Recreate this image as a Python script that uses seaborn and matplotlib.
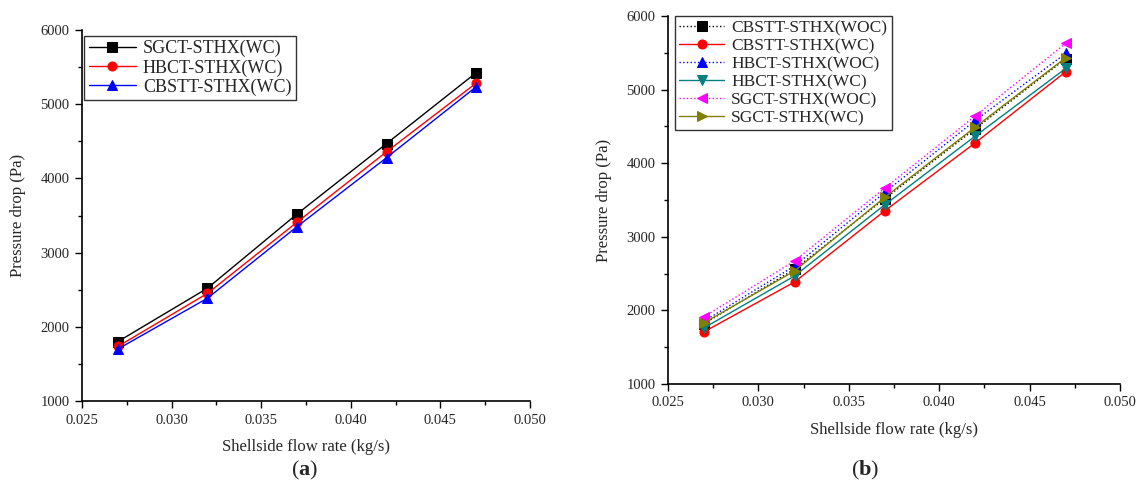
import numpy as np
import pandas as pd
import matplotlib
matplotlib.use('Agg')
import matplotlib.pyplot as plt
import seaborn as sns

flow = [0.027, 0.032, 0.037, 0.042, 0.047]

# panel (a)
sgct_wc_a = [1800, 2520, 3520, 4470, 5425]
hbct_wc_a = [1735, 2450, 3410, 4360, 5285]
cbstt_wc_a = [1700, 2385, 3350, 4280, 5235]

# panel (b)
cbstt_woc = [1820, 2560, 3520, 4470, 5420]
cbstt_wc = [1710, 2386, 3355, 4278, 5243]
hbct_woc = [1855, 2604, 3606, 4583, 5492]
hbct_wc = [1764, 2468, 3437, 4370, 5288]
sgct_woc = [1914, 2673, 3664, 4643, 5629]
sgct_wc = [1832, 2536, 3538, 4492, 5434]

sns.set_style('ticks')
plt.rcParams['font.family'] = ['Liberation Serif', 'DejaVu Serif']
plt.rcParams['mathtext.fontset'] = 'custom'
plt.rcParams['mathtext.rm'] = 'Liberation Serif'
plt.rcParams['mathtext.bf'] = 'Liberation Serif:bold'
plt.rcParams['xtick.direction'] = 'out'
plt.rcParams['ytick.direction'] = 'out'

fig = plt.figure(figsize=(11.4, 4.92), dpi=100)
ax1 = fig.add_axes([82/1140, 1 - 401/492, 448/1140, 371/492])
ax2 = fig.add_axes([668/1140, 1 - 384/492, 452/1140, 368/492])

series_a = [
    ('SGCT-STHX(WC)', sgct_wc_a, 'black', 's', '-'),
    ('HBCT-STHX(WC)', hbct_wc_a, 'red', 'o', '-'),
    ('CBSTT-STHX(WC)', cbstt_wc_a, 'blue', '^', '-'),
]
series_b = [
    ('CBSTT-STHX(WOC)', cbstt_woc, 'black', 's', ':'),
    ('CBSTT-STHX(WC)', cbstt_wc, 'red', 'o', '-'),
    ('HBCT-STHX(WOC)', hbct_woc, 'blue', '^', ':'),
    ('HBCT-STHX(WC)', hbct_wc, '#008080', 'v', '-'),
    ('SGCT-STHX(WOC)', sgct_woc, 'magenta', '<', ':'),
    ('SGCT-STHX(WC)', sgct_wc, '#808000', '>', '-'),
]

for ax, series in [(ax1, series_a), (ax2, series_b)]:
    for name, vals, col, mk, ls in series:
        df = pd.DataFrame({'flow': flow, 'dp': vals})
        sns.lineplot(data=df, x='flow', y='dp', ax=ax, color=col, marker=mk,
                     linestyle=ls, linewidth=1, markersize=6.5,
                     markeredgecolor=col, label=name)
    ax.set_xlim(0.025, 0.050)
    ax.set_ylim(1000, 6000)
    ax.set_xticks(np.arange(0.025, 0.0501, 0.005))
    ax.set_xticks(np.arange(0.0275, 0.050, 0.005), minor=True)
    ax.set_yticks(np.arange(1000, 6001, 1000))
    ax.set_yticks(np.arange(1500, 6000, 1000), minor=True)
    ax.xaxis.set_major_formatter(matplotlib.ticker.FormatStrFormatter('%.3f'))
    ax.tick_params(which='major', length=5, width=1, labelsize=10.5, color='black', pad=4)
    ax.tick_params(which='minor', length=3, width=1, color='black')
    ax.set_xlabel('Shellside flow rate (kg/s)', fontsize=12, labelpad=9)
    ax.set_ylabel('Pressure drop (Pa)', fontsize=12, labelpad=10)
    sns.despine(ax=ax)
    for sp in ['left', 'bottom']:
        ax.spines[sp].set_color('black')
        ax.spines[sp].set_linewidth(1.2)

leg1 = ax1.legend(loc='upper left', bbox_to_anchor=(0.005, 0.985), fontsize=13,
                  frameon=True, fancybox=False, edgecolor='black',
                  handlelength=2.6, borderpad=0.25, labelspacing=0.1,
                  handletextpad=0.4, borderaxespad=0)
leg1.get_frame().set_linewidth(1)
leg2 = ax2.legend(loc='upper left', bbox_to_anchor=(0.015, 1.0), fontsize=12.5,
                  frameon=True, fancybox=False, edgecolor='black',
                  handlelength=2.6, borderpad=0.25, labelspacing=0.1,
                  handletextpad=0.4, borderaxespad=0)
leg2.get_frame().set_linewidth(1)

fig.text(305/1140, 1 - 470/492, r'($\mathbf{a}$)', ha='center', va='center', fontsize=16)
fig.text(865/1140, 1 - 470/492, r'($\mathbf{b}$)', ha='center', va='center', fontsize=16)

fig.savefig('out.png', dpi=100)
